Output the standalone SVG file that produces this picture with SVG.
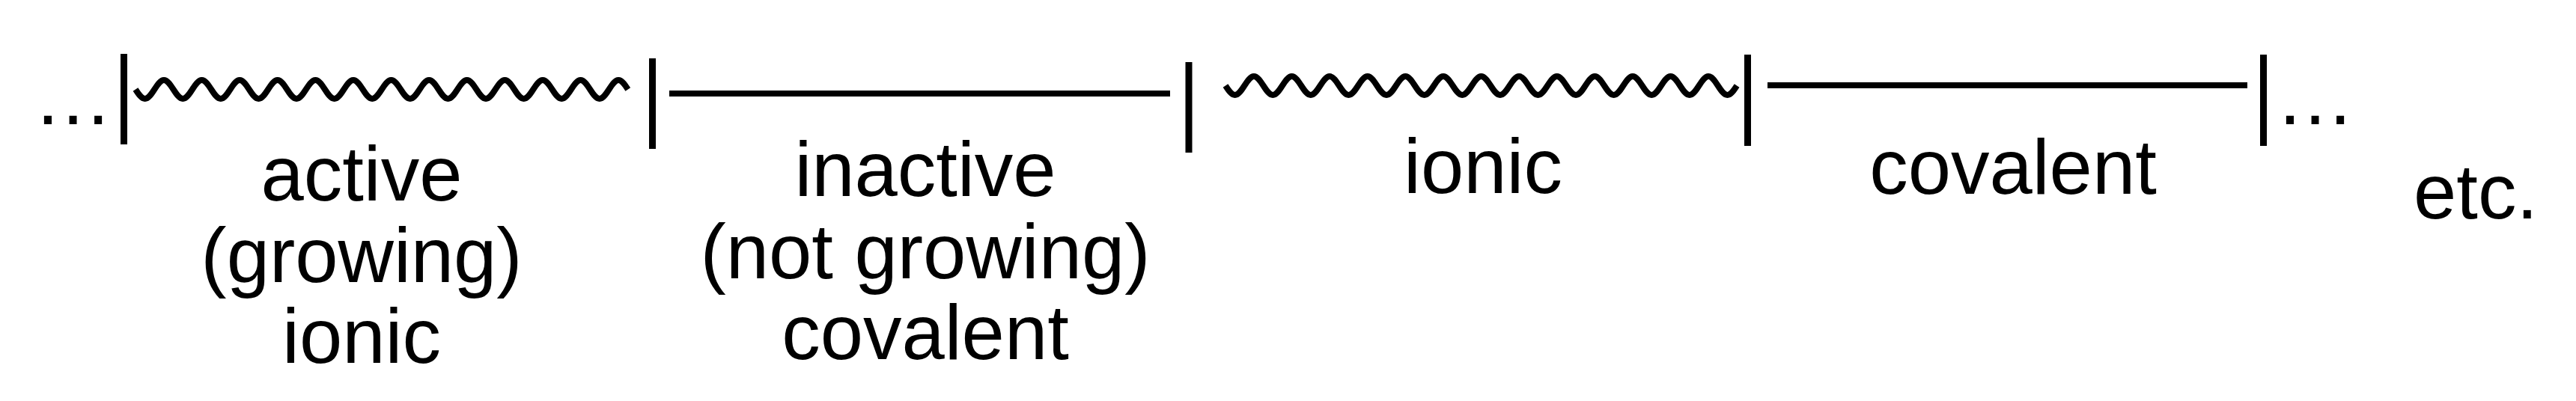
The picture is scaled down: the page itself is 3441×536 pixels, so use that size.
<svg xmlns="http://www.w3.org/2000/svg" width="3441" height="536" viewBox="0 0 3441 536">
<style>
.t{font-family:"Liberation Sans",Arial,Helvetica,sans-serif;font-size:103px;fill:#000;text-anchor:middle}
.s{font-family:"Liberation Sans",Arial,Helvetica,sans-serif;font-size:103px;fill:#000}
.bar{stroke:#000;stroke-width:9;fill:none}
.line{stroke:#000;stroke-width:8;fill:none}
.wave{stroke:#000;stroke-width:8;fill:none;stroke-linejoin:round}
</style>
<rect width="3441" height="536" fill="#fff"/>
<g id="connectors">
<line class="bar" x1="165.5" y1="72" x2="165.5" y2="193"/>
<line class="bar" x1="871.5" y1="78" x2="871.5" y2="199"/>
<line class="bar" x1="1588" y1="83" x2="1588" y2="204"/>
<line class="bar" x1="2334.5" y1="73" x2="2334.5" y2="195"/>
<line class="bar" x1="3023.5" y1="73" x2="3023.5" y2="195"/>
</g>
<g id="ellipsis-left">
<text class="t" x="97.5" y="165.5" style="font-size:106px">…</text>
</g>
<g id="seg-active">
<path class="wave" d="M181 119.5
c4.125 6.4 8.07 12.5 12.65 12.5c4.58 0 8.525-6.1 12.65-12.5c4.125-6.4 8.07-12.5 12.65-12.5c4.58 0 8.525 6.1 12.65 12.5
c4.125 6.4 8.07 12.5 12.65 12.5c4.58 0 8.525-6.1 12.65-12.5c4.125-6.4 8.07-12.5 12.65-12.5c4.58 0 8.525 6.1 12.65 12.5
c4.125 6.4 8.07 12.5 12.65 12.5c4.58 0 8.525-6.1 12.65-12.5c4.125-6.4 8.07-12.5 12.65-12.5c4.58 0 8.525 6.1 12.65 12.5
c4.125 6.4 8.07 12.5 12.65 12.5c4.58 0 8.525-6.1 12.65-12.5c4.125-6.4 8.07-12.5 12.65-12.5c4.58 0 8.525 6.1 12.65 12.5
c4.125 6.4 8.07 12.5 12.65 12.5c4.58 0 8.525-6.1 12.65-12.5c4.125-6.4 8.07-12.5 12.65-12.5c4.58 0 8.525 6.1 12.65 12.5
c4.125 6.4 8.07 12.5 12.65 12.5c4.58 0 8.525-6.1 12.65-12.5c4.125-6.4 8.07-12.5 12.65-12.5c4.58 0 8.525 6.1 12.65 12.5
c4.125 6.4 8.07 12.5 12.65 12.5c4.58 0 8.525-6.1 12.65-12.5c4.125-6.4 8.07-12.5 12.65-12.5c4.58 0 8.525 6.1 12.65 12.5
c4.125 6.4 8.07 12.5 12.65 12.5c4.58 0 8.525-6.1 12.65-12.5c4.125-6.4 8.07-12.5 12.65-12.5c4.58 0 8.525 6.1 12.65 12.5
c4.125 6.4 8.07 12.5 12.65 12.5c4.58 0 8.525-6.1 12.65-12.5c4.125-6.4 8.07-12.5 12.65-12.5c4.58 0 8.525 6.1 12.65 12.5
c4.125 6.4 8.07 12.5 12.65 12.5c4.58 0 8.525-6.1 12.65-12.5c4.125-6.4 8.07-12.5 12.65-12.5c4.58 0 8.525 6.1 12.65 12.5
c4.125 6.4 8.07 12.5 12.65 12.5c4.58 0 8.525-6.1 12.65-12.5c4.125-6.4 8.07-12.5 12.65-12.5c4.58 0 8.525 6.1 12.65 12.5
c4.125 6.4 8.07 12.5 12.65 12.5c4.58 0 8.525-6.1 12.65-12.5c4.125-6.4 8.07-12.5 12.65-12.5c4.58 0 8.525 6.1 12.65 12.5
c4.125 6.4 8.07 12.5 12.65 12.5c4.58 0 8.525-6.1 12.65-12.5c4.125-6.4 8.07-12.5 12.65-12.5c4.58 0 8.525 6.1 12.65 12.5"/>
<text class="t" x="483" y="268">active</text>
<text class="t" x="483" y="377">(growing)</text>
<text class="t" x="483" y="485">ionic</text>
</g>
<g id="seg-inactive">
<line class="line" x1="894" y1="125" x2="1563" y2="125"/>
<text class="t" x="1236" y="262">inactive</text>
<text class="t" x="1236" y="372">(not growing)</text>
<text class="t" x="1236" y="480">covalent</text>
</g>
<g id="seg-ionic">
<path class="wave" d="M1637 114.5
c4.125 6.4 8.07 12.5 12.65 12.5c4.58 0 8.525-6.1 12.65-12.5c4.125-6.4 8.07-12.5 12.65-12.5c4.58 0 8.525 6.1 12.65 12.5
c4.125 6.4 8.07 12.5 12.65 12.5c4.58 0 8.525-6.1 12.65-12.5c4.125-6.4 8.07-12.5 12.65-12.5c4.58 0 8.525 6.1 12.65 12.5
c4.125 6.4 8.07 12.5 12.65 12.5c4.58 0 8.525-6.1 12.65-12.5c4.125-6.4 8.07-12.5 12.65-12.5c4.58 0 8.525 6.1 12.65 12.5
c4.125 6.4 8.07 12.5 12.65 12.5c4.58 0 8.525-6.1 12.65-12.5c4.125-6.4 8.07-12.5 12.65-12.5c4.58 0 8.525 6.1 12.65 12.5
c4.125 6.4 8.07 12.5 12.65 12.5c4.58 0 8.525-6.1 12.65-12.5c4.125-6.4 8.07-12.5 12.65-12.5c4.58 0 8.525 6.1 12.65 12.5
c4.125 6.4 8.07 12.5 12.65 12.5c4.58 0 8.525-6.1 12.65-12.5c4.125-6.4 8.07-12.5 12.65-12.5c4.58 0 8.525 6.1 12.65 12.5
c4.125 6.4 8.07 12.5 12.65 12.5c4.58 0 8.525-6.1 12.65-12.5c4.125-6.4 8.07-12.5 12.65-12.5c4.58 0 8.525 6.1 12.65 12.5
c4.125 6.4 8.07 12.5 12.65 12.5c4.58 0 8.525-6.1 12.65-12.5c4.125-6.4 8.07-12.5 12.65-12.5c4.58 0 8.525 6.1 12.65 12.5
c4.125 6.4 8.07 12.5 12.65 12.5c4.58 0 8.525-6.1 12.65-12.5c4.125-6.4 8.07-12.5 12.65-12.5c4.58 0 8.525 6.1 12.65 12.5
c4.125 6.4 8.07 12.5 12.65 12.5c4.58 0 8.525-6.1 12.65-12.5c4.125-6.4 8.07-12.5 12.65-12.5c4.58 0 8.525 6.1 12.65 12.5
c4.125 6.4 8.07 12.5 12.65 12.5c4.58 0 8.525-6.1 12.65-12.5c4.125-6.4 8.07-12.5 12.65-12.5c4.58 0 8.525 6.1 12.65 12.5
c4.125 6.4 8.07 12.5 12.65 12.5c4.58 0 8.525-6.1 12.65-12.5c4.125-6.4 8.07-12.5 12.65-12.5c4.58 0 8.525 6.1 12.65 12.5
c4.125 6.4 8.07 12.5 12.65 12.5c4.58 0 8.525-6.1 12.65-12.5c4.125-6.4 8.07-12.5 12.65-12.5c4.58 0 8.525 6.1 12.65 12.5
c4.125 6.4 8.07 12.5 12.65 12.5c4.58 0 8.525-6.1 12.65-12.5"/>
<text class="t" x="1981" y="258">ionic</text>
</g>
<g id="seg-covalent">
<line class="line" x1="2361" y1="114" x2="3002" y2="114"/>
<text class="t" x="2689" y="259">covalent</text>
</g>
<g id="ellipsis-right">
<text class="t" x="3092.5" y="166" style="font-size:106px">…</text>
</g>
<g id="etc">
<text class="s" x="3224" y="292">etc.</text>
</g>
</svg>
